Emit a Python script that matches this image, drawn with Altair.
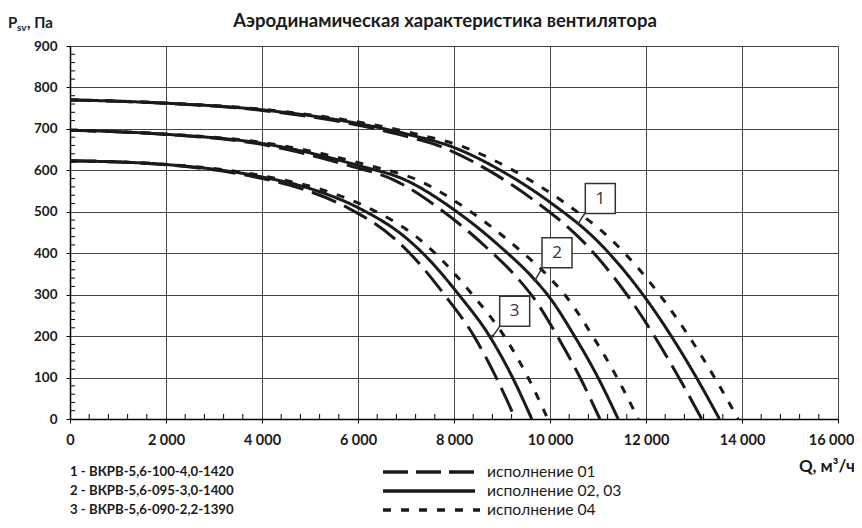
import altair as alt
import pandas as pd

# ---------------- data ----------------
# Fan 1 (ВКРВ-5,6-100-4,0-1420)
p_fan1 = [770, 762, 746, 713, 688, 655, 598, 523, 428, 290, 110, 0]
q_fan1_solid = [0, 2000, 4000, 6000, 7000, 8000, 9000, 10000, 11000, 12000, 13000, 13530]
q_fan1_dash = [0, 1944, 3888, 5832, 6804, 7776, 8748, 9720, 10692, 11664, 12636, 13160]
q_fan1_dot = [0, 2058, 4116, 6174, 7203, 8232, 9261, 10290, 11319, 12348, 13377, 13920]

# Fan 2 (ВКРВ-5,6-095-3,0-1400)
p_fan2 = [697, 687, 665, 612, 576, 505, 412, 340, 292, 202, 100, 0]
q_fan2_solid = [0, 2000, 4000, 6000, 7000, 8000, 9000, 9650, 10000, 10500, 11000, 11420]
q_fan2_dash = [0, 1932, 3864, 5796, 6762, 7728, 8694, 9322, 9660, 10143, 10626, 11040]
q_fan2_dot = [0, 2072, 4144, 6216, 7252, 8288, 9324, 9997, 10360, 10878, 11396, 11840]

# Fan 3 (ВКРВ-5,6-090-2,2-1390)
p_fan3 = [623, 614, 584, 556, 510, 437, 400, 300, 200, 100, 0]
q_fan3_solid = [0, 2000, 4000, 5000, 6000, 7000, 7350, 8100, 8740, 9220, 9620]
q_fan3_dash = [0, 1926, 3852, 4815, 5778, 6741, 7078, 7800, 8417, 8879, 9280]
q_fan3_dot = [0, 2070, 4140, 5175, 6210, 7245, 7607, 8384, 9046, 9543, 9955]

x_ticks = [0, 2000, 4000, 6000, 8000, 10000, 12000, 14000, 16000]
y_ticks = [0, 100, 200, 300, 400, 500, 600, 700, 800, 900]
x_minor = [v for v in range(400, 16000, 400) if v % 2000]
y_minor = [v for v in range(20, 900, 20) if v % 100]

box_labels = ["1", "2", "3"]
box_q = [11048, 10146, 9264]
box_p = [532, 401, 260]
ptr_q1 = [10730, 9847, 8958]
ptr_p1 = [497, 366, 224]
ptr_q2 = [10590, 9688, 8806]
ptr_p2 = [472, 335, 200]

title_text = "Аэродинамическая характеристика вентилятора"
legend_models = ["1 - ВКРВ-5,6-100-4,0-1420", "2 - ВКРВ-5,6-095-3,0-1400", "3 - ВКРВ-5,6-090-2,2-1390"]
legend_variants = ["исполнение 01", "исполнение 02, 03", "исполнение 04"]

# ---------------- build table ----------------
rows = []
for fan, p, qs, qd, qt in [
    ("1", p_fan1, q_fan1_solid, q_fan1_dash, q_fan1_dot),
    ("2", p_fan2, q_fan2_solid, q_fan2_dash, q_fan2_dot),
    ("3", p_fan3, q_fan3_solid, q_fan3_dash, q_fan3_dot),
]:
    for var, qq in [("01", qd), ("02, 03", qs), ("04", qt)]:
        for q, pv in zip(qq, p):
            rows.append({"Q": q, "P": pv, "fan": fan, "var": var})
df = pd.DataFrame(rows)

W, H = 768, 373
FONT = "Lato"
INK = "#1a1a1a"
xs = alt.Scale(domain=[0, 16000], nice=False, zero=False)
ys = alt.Scale(domain=[0, 900], nice=False, zero=False)

x_axis = alt.Axis(values=x_ticks, grid=True, gridColor="#444", gridWidth=1,
                  domainColor="#000", domainWidth=1.5, tickColor="#000", tickSize=4,
                  labelFont=FONT, labelFontWeight="bold", labelFontSize=14.5, labelColor=INK,
                  labelPadding=10, title=None, labelFlush=False,
                  labelOffset={"condition": {"test": "datum.value == 16000", "value": -7}, "value": 0},
                  labelExpr="replace(format(datum.value, ','), ',', ' ')")
y_axis = alt.Axis(values=y_ticks, grid=True, gridColor="#444", gridWidth=1,
                  domainColor="#000", domainWidth=1.5, tickColor="#000", tickSize=4,
                  labelFont=FONT, labelFontWeight="bold", labelFontSize=13.5, labelColor=INK,
                  labelPadding=9, title=None, labelFlush=False)


def X(field):
    return alt.X(field, scale=xs, axis=x_axis)


def Y(field):
    return alt.Y(field, scale=ys, axis=y_axis)


dash_styles = {"01": [26, 9], "02, 03": [1, 0], "04": [8, 10]}

layers = []
for var in ["01", "02, 03", "04"]:
    sub = df[df["var"] == var]
    ln = alt.Chart(sub).mark_line(interpolate="monotone", color=INK, strokeWidth=3,
                                  strokeDash=dash_styles[var]).encode(
        x=X("Q:Q"), y=Y("P:Q"), detail="fan:N",
    )
    layers.append(ln)

# minor ticks
mx = alt.Chart(pd.DataFrame({"Q": x_minor})).mark_rule(color="#000", strokeWidth=1).encode(
    x=X("Q:Q"), y=alt.value(H), y2=alt.value(H - 5))
my = alt.Chart(pd.DataFrame({"P": y_minor})).mark_rule(color="#000", strokeWidth=1).encode(
    y=Y("P:Q"), x=alt.value(0), x2=alt.value(5))
layers += [mx, my]

# label boxes with pointers
bdf = pd.DataFrame({"t": box_labels, "Q": box_q, "P": box_p,
                    "q1": ptr_q1, "p1": ptr_p1, "q2": ptr_q2, "p2": ptr_p2})
ptr = alt.Chart(bdf).mark_rule(color="#333", strokeWidth=1.5).encode(
    x=X("q1:Q"), y=Y("p1:Q"), x2="q2:Q", y2="p2:Q")
dots = alt.Chart(bdf).mark_circle(color="#333", size=12, opacity=1).encode(
    x=X("q2:Q"), y=Y("p2:Q"))
box = alt.Chart(bdf).mark_square(size=900, fill="white", stroke="#333", strokeWidth=1.5,
                                 opacity=1, fillOpacity=1).encode(
    x=X("Q:Q"), y=Y("P:Q"))
btxt = alt.Chart(bdf).mark_text(font="Open Sans", fontSize=17, color="#333").encode(
    x=X("Q:Q"), y=Y("P:Q"), text="t:N")
layers += [ptr, dots, box, btxt]


def label(txt, x, y, size=13, weight="bold", align="left", baseline="middle"):
    return alt.Chart(alt.Data(values=[{}])).mark_text(
        text=txt, font=FONT, fontSize=size, fontWeight=weight, align=align,
        baseline=baseline, color=INK).encode(x=alt.value(x), y=alt.value(y))


# title and axis titles
layers.append(label(title_text, 375, -19, size=18.5, align="center", baseline="alphabetic"))
layers.append(label("P", -62, -18, size=15, baseline="alphabetic"))
layers.append(label("sv", -53, -15, size=10, baseline="alphabetic"))
layers.append(label(", Па", -43, -18, size=15, baseline="alphabetic"))
layers.append(label("Q, м³/ч", 785, 421, size=17, align="right"))

# legend
legend_y = [426, 445, 464]
for i in range(3):
    layers.append(label(legend_models[i], 0, legend_y[i], size=13.2))
    layers.append(label(legend_variants[i], 417, legend_y[i], size=15.7, weight="normal"))
for i, var in enumerate(["01", "02, 03", "04"]):
    layers.append(alt.Chart(alt.Data(values=[{}])).mark_rule(
        color=INK, strokeWidth=3.5, strokeDash=[25, 8] if var == "01" else dash_styles[var]
    ).encode(x=alt.value(313), x2=alt.value(410 if var == "04" else 405), y=alt.value(legend_y[i])))

chart = alt.layer(*layers).properties(
    width=W, height=H,
    autosize=alt.AutoSizeParams(type="none"),
    padding={"left": 62, "top": 38, "right": 16, "bottom": 99},
).configure_view(stroke=None)

chart.save("out.html", embed_options={"renderer": "svg", "actions": False})
